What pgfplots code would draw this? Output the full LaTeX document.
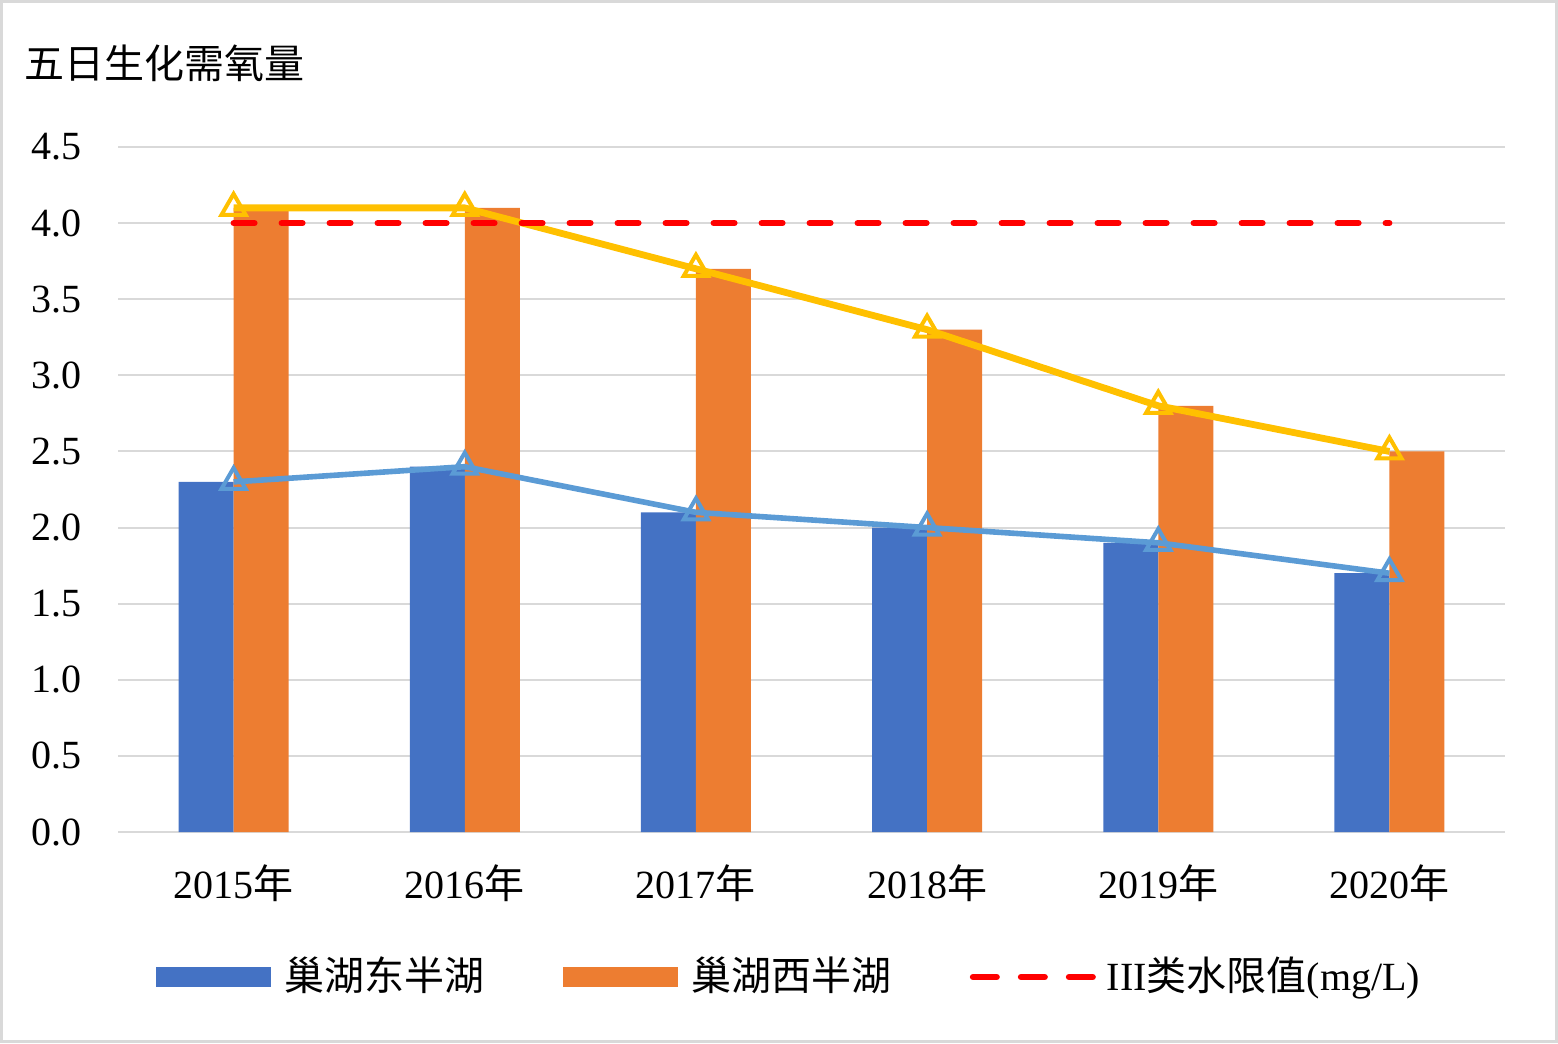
\documentclass[border=0pt]{standalone}
\usepackage{fontspec}
\setmainfont{Liberation Serif}
\newfontfamily\cjk{Noto Sans CJK SC}
\usepackage{pgfplots}
\pgfplotsset{compat=1.18}
\definecolor{eastblue}{HTML}{4472C4}
\definecolor{westorange}{HTML}{ED7D31}
\definecolor{lineyellow}{HTML}{FFC000}
\definecolor{lineblue}{HTML}{5B9BD5}
\definecolor{limitred}{HTML}{FF0000}
\definecolor{gridgray}{HTML}{D9D9D9}
\begin{document}
\begin{tikzpicture}[font=\fontsize{10}{12}\selectfont]
\useasboundingbox (0,0) rectangle (389.5pt,260.75pt);
\draw[gridgray, line width=0.75pt] (0.4pt,0.4pt) rectangle (389.1pt,260.35pt);
\node[anchor=west, inner sep=0pt] at (6pt,245pt) {\cjk 五日生化需氧量};
\begin{axis}[
  at={(29.5pt,52.75pt)}, anchor=south west,
  scale only axis, width=346.75pt, height=171.25pt,
  xmin=-0.5, xmax=5.5, ymin=0, ymax=4.5,
  enlargelimits=false, clip=false,
  axis line style={draw=none},
  tick style={draw=none},
  xtick={0,1,2,3,4,5},
  xticklabels={2015{\cjk 年},2016{\cjk 年},2017{\cjk 年},2018{\cjk 年},2019{\cjk 年},2020{\cjk 年}},
  ytick={0,0.5,1,1.5,2,2.5,3,3.5,4,4.5},
  yticklabel={\pgfmathprintnumber[fixed,fixed zerofill,precision=1]{\tick}},
  /pgf/number format/assume math mode=true,
  x tick label style={anchor=base, inner sep=0pt, yshift=-16.5pt},
  y tick label style={anchor=east, inner sep=0pt, xshift=-9pt},
  ymajorgrids, grid style={gridgray, line width=0.5pt},
  legend columns=3,
  legend cell align=left,
  legend style={at={(0.0267,-0.2117)}, anchor=west, draw=none, fill=none,
    inner sep=0pt, nodes={inner xsep=3.5pt, inner ysep=0pt},
    /tikz/every even column/.append style={column sep=16pt}},
]
\addplot[ybar, bar width=13.75pt, bar shift=-6.875pt, fill=eastblue, draw=none,
  legend image code/.code={\fill[eastblue] (0pt,-2.5pt) rectangle (28.75pt,2.5pt);}]
  coordinates {(0,2.3) (1,2.4) (2,2.1) (3,2.0) (4,1.9) (5,1.7)};
\addlegendentry{\cjk 巢湖东半湖}
\addplot[ybar, bar width=13.75pt, bar shift=6.875pt, fill=westorange, draw=none,
  legend image code/.code={\fill[westorange] (0pt,-2.5pt) rectangle (28.75pt,2.5pt);}]
  coordinates {(0,4.1) (1,4.1) (2,3.7) (3,3.3) (4,2.8) (5,2.5)};
\addlegendentry{\cjk 巢湖西半湖}
\addplot[lineblue, line width=1.4pt, mark=triangle, mark size=3.5pt,
  mark options={line width=1pt, fill=none}, forget plot]
  coordinates {(0,2.3) (1,2.4) (2,2.1) (3,2.0) (4,1.9) (5,1.7)};
\addplot[lineyellow, line width=1.7pt, mark=triangle, mark size=3.5pt,
  mark options={line width=1pt, fill=none}, forget plot]
  coordinates {(0,4.1) (1,4.1) (2,3.7) (3,3.3) (4,2.8) (5,2.5)};
\addplot[limitred, line width=1.5pt, line cap=round, dash pattern=on 5.25pt off 6.75pt,
  legend image code/.code={\path (0pt,0pt) -- (29.25pt,0pt);
    \draw[overlay, limitred, line width=1.5pt, line cap=round,
    dash pattern=on 5.25pt off 6.75pt] (0.75pt,0pt) -- (30pt,0pt);}]
  coordinates {(0,4) (5,4)};
\addlegendentry{III{\cjk 类水限值}(mg/L)}
\end{axis}
\end{tikzpicture}
\end{document}
